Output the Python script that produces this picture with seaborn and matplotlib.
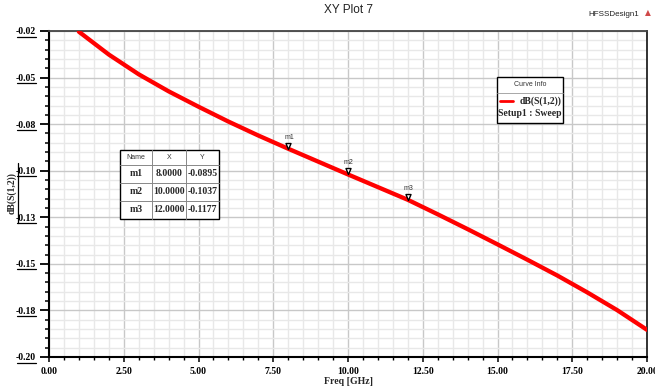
import numpy as np
import pandas as pd
import matplotlib
matplotlib.use("Agg")
import matplotlib.pyplot as plt
import seaborn as sns
from matplotlib.patches import Rectangle
from matplotlib.lines import Line2D
from matplotlib.path import Path
import matplotlib.transforms as mtransforms

# ---------------- data ----------------
freq_ghz = [1, 2, 3, 4, 5, 6, 7, 8, 9, 10, 11, 12, 13, 14, 15, 16, 17, 18, 19, 20]
s12_db = [-0.0249, -0.0375, -0.0484, -0.0578, -0.0663, -0.0745, -0.0822, -0.0895,
          -0.0966, -0.1037, -0.1107, -0.1177, -0.1257, -0.1339, -0.1423, -0.1508,
          -0.1595, -0.1688, -0.1786, -0.1895]
marker_names = ["m1", "m2", "m3"]
marker_freq = [8.0, 10.0, 12.0]
marker_db = [-0.0895, -0.1037, -0.1177]
x_ticks = [0.0, 2.5, 5.0, 7.5, 10.0, 12.5, 15.0, 17.5, 20.0]
x_tick_labels = ["0.00", "2.50", "5.00", "7.50", "10.00", "12.50", "15.00", "17.50", "20.00"]
y_tick_labels = ["-0.02", "-0.05", "-0.08", "-0.10", "-0.13", "-0.15", "-0.18", "-0.20"]
y_top, y_bottom = -0.0245, -0.2045
title = "XY Plot 7"
design = "HFSSDesign1"
x_label = "Freq [GHz]"
y_label = "dB(S(1,2))"
curve_name = "dB(S(1,2))"
curve_setup = "Setup1 : Sweep"

# ---------------- figure ----------------
sns.set_theme(style="white")
plt.rcParams["font.family"] = ["Liberation Sans", "DejaVu Sans"]
W, H = 655, 392
fig = plt.figure(figsize=(W / 100, H / 100), dpi=100)
ax = fig.add_axes([49 / W, 1 - 357 / H, 598 / W, 326 / H])

def fx(x):
    return x / W

def fy(y):
    return 1 - y / H

df = pd.DataFrame({"Freq": freq_ghz, "dB": s12_db})
sns.lineplot(data=df, x="Freq", y="dB", ax=ax, color="#ff0000", lw=3.1, zorder=3)

ax.set_xlim(0, 20)
ax.set_ylim(y_bottom, y_top)
yt = np.linspace(y_top, y_bottom, len(y_tick_labels))
ax.set_yticks(yt)
ax.set_yticklabels(y_tick_labels)
ax.set_xticks(x_ticks)
ax.set_xticklabels(x_tick_labels)
ax.set_xticks(np.arange(0, 20.01, 0.5), minor=True)
ax.set_yticks(np.linspace(y_top, y_bottom, 36), minor=True)
ax.grid(which="major", color="#c8c8c8", lw=1.0)
ax.grid(which="minor", color="#e8e8e8", lw=1.0)
ax.set_axisbelow(True)
ax.set_xlabel("")
ax.set_ylabel("")

ax.tick_params(axis="y", which="major", length=6.5, width=1.3, direction="out", pad=3, left=True, color="black")
ax.tick_params(axis="y", which="minor", length=3, width=1.1, direction="out", left=True, color="black")
ax.tick_params(axis="x", which="major", length=3.5, width=1.1, direction="out", pad=4, bottom=True, color="black")
ax.tick_params(axis="x", which="minor", length=2.5, width=1.0, direction="out", bottom=True, color="black")
for lab in ax.get_xticklabels() + ax.get_yticklabels():
    lab.set_fontfamily("Liberation Serif")
    lab.set_fontweight("bold")
    lab.set_fontsize(7)
    lab.set_color("black")

for s in ["left", "bottom"]:
    ax.spines[s].set_color("black")
    ax.spines[s].set_linewidth(1.5)
ax.spines["top"].set_color("#444444")
ax.spines["top"].set_linewidth(1.3)
ax.spines["right"].set_color("#222222")
ax.spines["right"].set_linewidth(1.3)

# underline of y tick labels
utrans = mtransforms.blended_transform_factory(ax.transAxes, ax.transData) + \
    mtransforms.ScaledTranslation(0, -5.5 / 100, fig.dpi_scale_trans)
for v in yt:
    ax.add_line(Line2D([-32 / 598, -13 / 598], [v, v], transform=utrans, color="black",
                       lw=0.9, clip_on=False))

# markers
tri = Path([(-0.42, 1.0), (0.42, 1.0), (0.0, 0.0), (-0.42, 1.0)],
           [Path.MOVETO, Path.LINETO, Path.LINETO, Path.CLOSEPOLY])
ax.plot(marker_freq, marker_db, ls="none", marker=tri, ms=8.6, mfc="white",
        mec="black", mew=1.0, zorder=5)
for n, f, v in zip(marker_names, marker_freq, marker_db):
    ax.annotate(n, (f, v), xytext=(0.5, 8.4), textcoords="offset points", ha="center",
                va="center", fontsize=5, color="#333333", zorder=6)

# titles & labels
fig.text(fx(348), fy(10), title, ha="center", va="center", fontsize=8.5, color="#222222")
fig.text(fx(639), fy(14), design, ha="right", va="center", fontsize=5.8, color="#222222")
fig.text(fx(648), fy(13), "\u25b2", ha="center", va="center", fontsize=5.5,
         color="#d04848", family="DejaVu Sans")
fig.text(fx(348), fy(381), x_label, ha="center", va="center", fontsize=7,
         family="Liberation Serif", weight="bold")
fig.text(fx(12), fy(193), y_label, ha="center", va="center", rotation=90, fontsize=7,
         family="Liberation Serif", weight="bold")
fig.add_artist(Line2D([fx(18.3), fx(18.3)], [fy(163), fy(223)], transform=fig.transFigure,
                      color="black", lw=0.9))

# curve info box
fig.add_artist(Rectangle((fx(497), fy(123)), 66 / W, 46 / H, transform=fig.transFigure,
                         fc="white", ec="black", lw=1.0, zorder=10))
fig.add_artist(Line2D([fx(497), fx(563)], [fy(93), fy(93)], transform=fig.transFigure,
                      color="#999999", lw=0.6, zorder=11))
fig.text(fx(530), fy(85), "Curve Info", ha="center", va="center", fontsize=5,
         color="#333333", zorder=12)
fig.add_artist(Line2D([fx(500), fx(513)], [fy(101), fy(101)], transform=fig.transFigure,
                      color="#ff0000", lw=2.0, zorder=11))
fig.text(fx(561), fy(101), curve_name, ha="right", va="center", fontsize=7,
         family="Liberation Serif", weight="bold", zorder=12)
fig.text(fx(530), fy(114), curve_setup, ha="center", va="center", fontsize=7,
         family="Liberation Serif", weight="bold", zorder=12)

# marker table
tx0, tx1, ty0, ty1 = 120, 219, 150, 219
col_edges = [120, 152, 186, 219]
row_edges = [150, 165, 183, 201, 219]
fig.add_artist(Rectangle((fx(tx0), fy(ty1)), (tx1 - tx0) / W, (ty1 - ty0) / H,
                         transform=fig.transFigure, fc="white", ec="black", lw=1.0, zorder=10))
for yy in row_edges[1:-1]:
    fig.add_artist(Line2D([fx(tx0), fx(tx1)], [fy(yy), fy(yy)], transform=fig.transFigure,
                          color="#888888", lw=0.7, zorder=11))
for xx in col_edges[1:-1]:
    fig.add_artist(Line2D([fx(xx), fx(xx)], [fy(ty0), fy(ty1)], transform=fig.transFigure,
                          color="#888888", lw=0.7, zorder=11))
col_c = [(col_edges[i] + col_edges[i + 1]) / 2 for i in range(3)]
row_c = [(row_edges[i] + row_edges[i + 1]) / 2 for i in range(4)]
for c, h in zip(col_c, ["Name", "X", "Y"]):
    fig.text(fx(c), fy(row_c[0]), h, ha="center", va="center", fontsize=5,
             color="#333333", zorder=12)
for r, (n, f, v) in enumerate(zip(marker_names, marker_freq, marker_db)):
    for c, t in zip(col_c, [n, f"{f:.4f}", f"{v:.4f}"]):
        fig.text(fx(c), fy(row_c[r + 1]), t, ha="center", va="center", fontsize=7,
                 family="Liberation Serif", weight="bold", zorder=12)

fig.savefig("out.png", dpi=100)
